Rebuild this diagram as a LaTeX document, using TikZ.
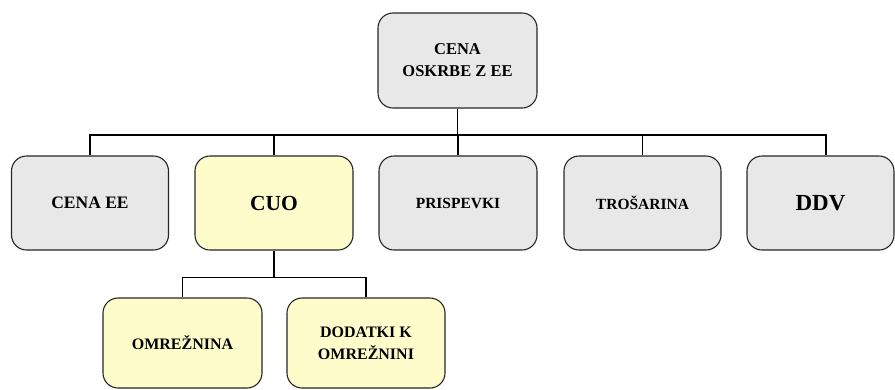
\documentclass[tikz,border=0pt]{standalone}
\usepackage{fontspec}
\setmainfont{Liberation Serif}
\begin{document}
\begin{tikzpicture}[x=1pt,y=-1pt,
  box/.style={draw=black!85, line width=1.1pt, rounded corners=15pt,
    align=center, font=\bfseries, inner sep=0pt},
  greybox/.style={box, fill=black!9},
  yellowbox/.style={box, fill=yellow!20},
  link/.style={draw=black, line width=1.2pt}]
\useasboundingbox (0,0) rectangle (895,389);

% root
\node[greybox, minimum width=159pt, minimum height=95pt,
  font=\bfseries\fontsize{16.5}{22}\selectfont] (root) at (457.5,60.5) {CENA\\OSKRBE Z EE};

% first level
\node[greybox, minimum width=157pt, minimum height=94pt,
  font=\bfseries\fontsize{17.5}{20}\selectfont] (cenaee) at (90,203) {CENA EE};
\node[yellowbox, minimum width=158pt, minimum height=94pt,
  font=\bfseries\fontsize{21.5}{24}\selectfont] (cuo) at (274,203) {CUO};
\node[greybox, minimum width=158pt, minimum height=94pt,
  font=\bfseries\fontsize{15.5}{18}\selectfont] (prisp) at (458,203) {PRISPEVKI};
\node[greybox, minimum width=157pt, minimum height=94pt,
  font=\bfseries\fontsize{15.5}{18}\selectfont] (tros) at (642.5,203) {TROŠARINA};
\node[greybox, minimum width=147pt, minimum height=94pt,
  font=\bfseries\fontsize{23}{26}\selectfont] (ddv) at (820.5,203) {DDV};

% second level
\node[yellowbox, minimum width=159pt, minimum height=90pt,
  font=\bfseries\fontsize{16}{20}\selectfont] (omr) at (182.5,343) {OMREŽNINA};
\node[yellowbox, minimum width=158pt, minimum height=90pt,
  font=\bfseries\fontsize{16}{22}\selectfont] (dod) at (366,343) {DODATKI K\\OMREŽNINI};

% bus lines
\coordinate (busA) at (0,135);
\coordinate (busB) at (0,277.5);

\draw[link] (root.south) -- (root.south |- busA);
\draw[link] (cenaee.north) |- (busA -| ddv.north) -- ([xshift=5.5pt]ddv.north |- busA) -- ([xshift=5.5pt]ddv.north);
\draw[link] (cuo.north) -- (cuo.north |- busA);
\draw[link] (prisp.north) -- (prisp.north |- busA);
\draw[link] (tros.north) -- (tros.north |- busA);

\draw[link] (cuo.south) -- (cuo.south |- busB);
\draw[link] (omr.north) |- (busB -| dod.north) -- (dod.north);
\end{tikzpicture}
\end{document}
